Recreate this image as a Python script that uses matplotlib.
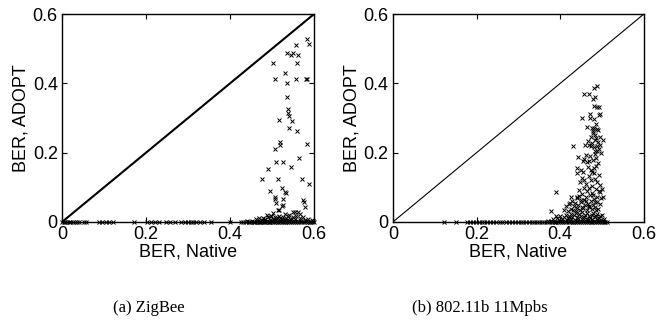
import matplotlib
matplotlib.use("Agg")
import matplotlib.pyplot as plt

# ---------------- data ----------------
ticks = [0, 0.2, 0.4, 0.6]
tick_labels = ["0", "0.2", "0.4", "0.6"]
captions = ["(a) ZigBee", "(b) 802.11b 11Mpbs"]

# ZigBee: points lying on BER_ADOPT = 0
zig_zero_x = [0.0, 0.004, 0.008, 0.012, 0.016, 0.02, 0.025, 0.03, 0.035, 0.04, 0.052, 0.058,
              0.088, 0.096, 0.104, 0.112, 0.122, 0.172, 0.203, 0.212, 0.222, 0.232, 0.248,
              0.257, 0.268, 0.283, 0.292, 0.3, 0.306, 0.312, 0.318, 0.328, 0.338, 0.354, 0.4,
              0.425, 0.432, 0.438, 0.444, 0.45, 0.456, 0.46, 0.464, 0.468, 0.472, 0.476, 0.48,
              0.484, 0.488, 0.492, 0.496, 0.5, 0.505, 0.51, 0.515, 0.52, 0.525, 0.53, 0.535,
              0.54, 0.545, 0.55, 0.555, 0.56, 0.565, 0.57, 0.575, 0.58, 0.585, 0.59, 0.595, 0.6]
# ZigBee: low cluster
zig_low_x = [0.44, 0.446, 0.452, 0.458, 0.462, 0.466, 0.469, 0.472, 0.475, 0.478, 0.481, 0.484,
             0.487, 0.49, 0.493, 0.496, 0.498, 0.5, 0.502, 0.504, 0.506, 0.508, 0.51, 0.512,
             0.514, 0.516, 0.518, 0.52, 0.522, 0.524, 0.526, 0.528, 0.53, 0.532, 0.534, 0.536,
             0.538, 0.54, 0.543, 0.546, 0.549, 0.552, 0.555, 0.558, 0.562, 0.566, 0.57, 0.574,
             0.578, 0.582, 0.586, 0.59, 0.594, 0.598]
zig_low_y = [0.002, 0.0, 0.004, 0.001, 0.008, 0.003, 0.012, 0.0, 0.006, 0.011, 0.002, 0.009,
             0.004, 0.014, 0.001, 0.007, 0.018, 0.003, 0.01, 0.005, 0.015, 0.002, 0.012, 0.008,
             0.001, 0.017, 0.006, 0.011, 0.003, 0.009, 0.014, 0.004, 0.007, 0.0, 0.012, 0.005,
             0.016, 0.002, 0.01, 0.006, 0.013, 0.003, 0.008, 0.018, 0.004, 0.011, 0.002, 0.015,
             0.007, 0.003, 0.01, 0.001, 0.006, 0.002]
# ZigBee: scattered points
zig_points = [(0.584, 0.528), (0.588, 0.513), (0.557, 0.51), (0.535, 0.489), (0.544, 0.482),
              (0.551, 0.488), (0.561, 0.481), (0.503, 0.459), (0.559, 0.458), (0.532, 0.431),
              (0.506, 0.412), (0.535, 0.402), (0.557, 0.412), (0.580, 0.412), (0.583, 0.412),
              (0.536, 0.36), (0.538, 0.325), (0.538, 0.314), (0.540, 0.307), (0.517, 0.294),
              (0.547, 0.291), (0.540, 0.272), (0.559, 0.263), (0.519, 0.23), (0.518, 0.222),
              (0.584, 0.225), (0.506, 0.21), (0.565, 0.185), (0.509, 0.174), (0.526, 0.174),
              (0.545, 0.158), (0.49, 0.154), (0.476, 0.125), (0.515, 0.123), (0.571, 0.124),
              (0.588, 0.11), (0.495, 0.089), (0.523, 0.099), (0.532, 0.086), (0.534, 0.084),
              (0.506, 0.073), (0.507, 0.065), (0.525, 0.066), (0.573, 0.063), (0.575, 0.058),
              (0.579, 0.042), (0.525, 0.049), (0.517, 0.035), (0.503, 0.027), (0.555, 0.030),
              (0.561, 0.030), (0.541, 0.020), (0.487, 0.02), (0.51, 0.055), (0.524, 0.045),
              (0.55, 0.029), (0.515, 0.034), (0.498, 0.016), (0.532, 0.024), (0.566, 0.022)]

# 802.11b: points lying on BER_ADOPT = 0
wifi_zero_x = [0.122, 0.152, 0.178, 0.185, 0.192, 0.198, 0.205, 0.212, 0.218, 0.225, 0.232,
               0.24, 0.247, 0.255, 0.262, 0.27, 0.278, 0.285, 0.292, 0.3, 0.306, 0.312, 0.318,
               0.325, 0.332, 0.338, 0.345, 0.35, 0.356, 0.362, 0.368, 0.374, 0.38, 0.385, 0.39,
               0.395, 0.4, 0.405, 0.41, 0.415, 0.42, 0.425, 0.43, 0.435, 0.44, 0.445, 0.45,
               0.455, 0.46, 0.465, 0.47, 0.475, 0.48, 0.485, 0.49, 0.495, 0.5, 0.505, 0.512]
wifi_low_x = [0.372, 0.378, 0.383, 0.388, 0.392, 0.396, 0.399, 0.402, 0.405, 0.408, 0.411,
              0.414, 0.417, 0.419, 0.421, 0.423, 0.425, 0.427, 0.429, 0.431, 0.433, 0.435,
              0.437, 0.439, 0.441, 0.443, 0.445, 0.447, 0.449, 0.451, 0.453, 0.455, 0.457,
              0.459, 0.461, 0.463, 0.465, 0.467, 0.469, 0.471, 0.473, 0.475, 0.477, 0.479,
              0.481, 0.483, 0.485, 0.487, 0.489, 0.491, 0.493, 0.495, 0.497, 0.499, 0.502,
              0.505, 0.508]
wifi_low_y = [0.004, 0.002, 0.009, 0.001, 0.012, 0.005, 0.018, 0.003, 0.008, 0.014, 0.002,
              0.021, 0.006, 0.011, 0.016, 0.003, 0.024, 0.009, 0.013, 0.001, 0.019, 0.007,
              0.026, 0.004, 0.015, 0.011, 0.022, 0.002, 0.017, 0.008, 0.028, 0.005, 0.013,
              0.02, 0.003, 0.01, 0.025, 0.006, 0.016, 0.012, 0.001, 0.021, 0.008, 0.027,
              0.004, 0.014, 0.018, 0.009, 0.023, 0.002, 0.011, 0.016, 0.006, 0.02, 0.003,
              0.009, 0.001]
wifi_mid_x = [0.379, 0.389, 0.39, 0.408, 0.414, 0.418, 0.422, 0.425, 0.428, 0.43, 0.432, 0.435,
              0.437, 0.439, 0.441, 0.443, 0.445, 0.447, 0.449, 0.451, 0.453, 0.455, 0.457,
              0.459, 0.461, 0.463, 0.465, 0.467, 0.469, 0.471, 0.473, 0.475, 0.477, 0.479,
              0.481, 0.483, 0.485, 0.487, 0.489, 0.491, 0.493, 0.495, 0.497, 0.5, 0.503,
              0.426, 0.439, 0.423, 0.456, 0.462, 0.47, 0.478, 0.486, 0.494, 0.45, 0.444,
              0.468, 0.482]
wifi_mid_y = [0.032, 0.018, 0.087, 0.036, 0.045, 0.031, 0.052, 0.038, 0.061, 0.034, 0.047,
              0.055, 0.033, 0.068, 0.041, 0.05, 0.075, 0.036, 0.058, 0.044, 0.082, 0.039,
              0.064, 0.048, 0.071, 0.035, 0.09, 0.053, 0.042, 0.077, 0.06, 0.037, 0.085,
              0.049, 0.066, 0.043, 0.094, 0.057, 0.072, 0.038, 0.088, 0.051, 0.069, 0.096,
              0.072, 0.072, 0.073, 0.054, 0.097, 0.062, 0.046, 0.079, 0.034, 0.087, 0.063,
              0.091, 0.099, 0.059]
wifi_points = [(0.487, 0.393), (0.481, 0.386), (0.457, 0.369), (0.469, 0.368), (0.483, 0.360),
               (0.479, 0.355), (0.481, 0.335), (0.487, 0.332), (0.492, 0.332), (0.495, 0.313),
               (0.492, 0.310), (0.471, 0.311), (0.453, 0.301), (0.471, 0.301), (0.480, 0.298),
               (0.463, 0.275), (0.475, 0.272), (0.481, 0.270), (0.487, 0.268), (0.490, 0.266),
               (0.478, 0.256), (0.484, 0.251), (0.495, 0.246), (0.491, 0.232), (0.467, 0.233),
               (0.503, 0.238), (0.431, 0.219), (0.459, 0.222), (0.470, 0.221), (0.474, 0.218),
               (0.481, 0.216), (0.488, 0.219), (0.494, 0.222), (0.475, 0.228), (0.483, 0.236),
               (0.486, 0.242), (0.443, 0.188), (0.461, 0.193), (0.455, 0.176), (0.458, 0.182),
               (0.463, 0.172), (0.470, 0.175), (0.478, 0.180), (0.484, 0.195), (0.489, 0.205),
               (0.492, 0.210), (0.497, 0.200), (0.486, 0.185), (0.439, 0.155), (0.439, 0.140),
               (0.450, 0.150), (0.455, 0.145), (0.466, 0.158), (0.474, 0.150), (0.480, 0.140),
               (0.485, 0.162), (0.490, 0.170), (0.447, 0.116), (0.452, 0.128), (0.458, 0.122),
               (0.462, 0.110), (0.468, 0.132), (0.473, 0.120), (0.477, 0.105), (0.482, 0.125),
               (0.487, 0.115), (0.492, 0.135), (0.495, 0.108), (0.476, 0.145), (0.481, 0.155),
               (0.471, 0.190), (0.483, 0.205), (0.478, 0.262), (0.485, 0.283), (0.473, 0.245)]

# ---------------- drawing ----------------
plt.rcParams['font.family'] = ['Liberation Sans', 'DejaVu Sans']
fig = plt.figure(figsize=(6.57, 3.28), dpi=100)

axes_rects = [[0.0944, 0.3232, 0.3836, 0.634], [0.598, 0.3232, 0.382, 0.634]]
diag_lw = [1.5, 0.8]
caption_x = [0.227, 0.731]
datasets = [
    (zig_zero_x, zig_low_x, zig_low_y, zig_points),
    (wifi_zero_x, wifi_low_x + wifi_mid_x, wifi_low_y + wifi_mid_y, wifi_points),
]

for rect, lw, data, cap, cx in zip(axes_rects, diag_lw, datasets, captions, caption_x):
    zero_x, low_x, low_y, pts = data
    ax = fig.add_axes(rect)
    ax.plot([0, 0.6], [0, 0.6], color='black', lw=lw, zorder=2)
    mk = dict(marker='x', linestyle='none', color='black', markersize=3.2,
              markeredgewidth=0.7, clip_on=False, zorder=3)
    ax.plot(zero_x, [0] * len(zero_x), **mk)
    ax.plot(low_x, low_y, **mk)
    ax.plot([p[0] for p in pts], [p[1] for p in pts], **mk)
    ax.set_xlim(0, 0.6)
    ax.set_ylim(0, 0.6)
    ax.set_xticks(ticks)
    ax.set_yticks(ticks)
    ax.set_xticklabels(tick_labels)
    ax.set_yticklabels(tick_labels)
    ax.tick_params(direction='in', top=True, right=True, length=3.5, width=0.8,
                   labelsize=13, pad=3)
    for s in ax.spines.values():
        s.set_linewidth(1.0)
    ax.set_xlabel("BER, Native", fontsize=13, labelpad=0)
    ax.set_ylabel("BER, ADOPT", fontsize=13, labelpad=2)
    fig.text(cx, 0.06, cap, ha='center', va='center', fontsize=12,
             family=['Liberation Serif', 'DejaVu Serif'])

fig.savefig("out.png", dpi=100)
